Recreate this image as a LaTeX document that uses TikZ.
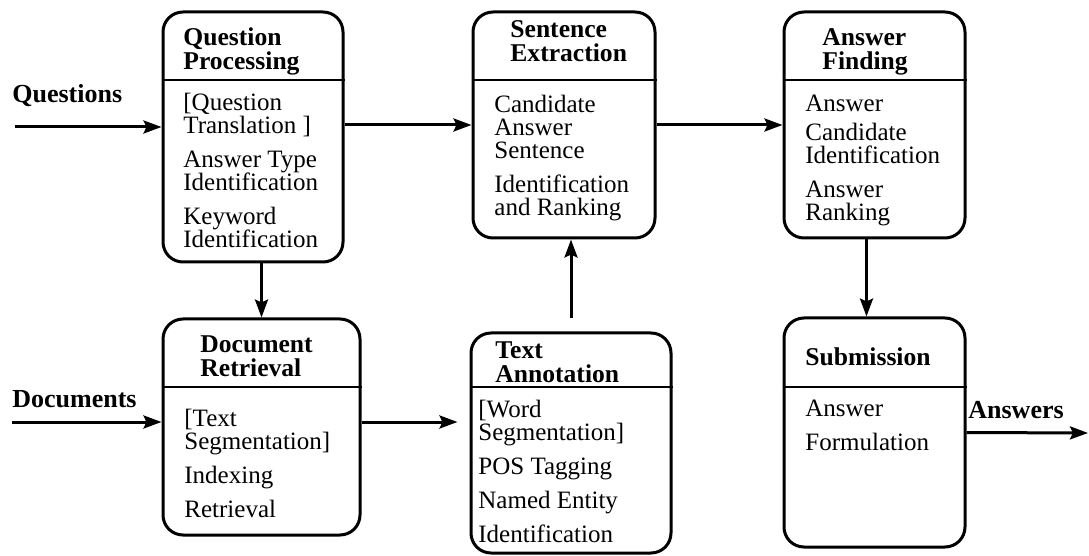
\documentclass[tikz,border=0pt]{standalone}
\usepackage{fontspec}
\setmainfont{Liberation Serif}
\usetikzlibrary{arrows.meta,positioning}

\begin{document}
\begin{tikzpicture}[
  x=0.5pt,
  y=-0.5pt,
  stage/.style={draw, line width=1.5pt, rounded corners=10pt, inner sep=0pt},
  divider/.style={line width=0.8pt},
  title/.style={anchor=north west, inner sep=0pt, align=left, font=\fontsize{12.8}{12}\selectfont\bfseries},
  items/.style={anchor=north west, inner sep=0pt, align=left, font=\fontsize{12.5}{11.5}\selectfont},
  iolabel/.style={anchor=north west, inner sep=0pt, font=\fontsize{13}{11}\selectfont\bfseries},
  flow/.style={line width=1.5pt, -{Stealth[length=9pt, width=6.5pt, inset=1.5pt]}}
]
\useasboundingbox (0,0) rectangle (1089,556);

% stages
\node[stage, minimum width=90pt, minimum height=125pt] (qp) at (253,137) {};
\node[stage, minimum width=91pt, minimum height=113pt] (se) at (564,125) {};
\node[stage, minimum width=90.5pt, minimum height=113pt] (af) at (874.5,125) {};
\node[stage, minimum width=98.5pt, minimum height=108pt] (dr) at (261.5,427) {};
\node[stage, minimum width=100pt, minimum height=110pt] (ta) at (571,443) {};
\node[stage, minimum width=90.5pt, minimum height=114.5pt] (sub) at (874.5,432.5) {};

\draw[divider] (qp.west |- 0,80) -- (qp.east |- 0,80);
\draw[divider] (se.west |- 0,80) -- (se.east |- 0,80);
\draw[divider] (af.west |- 0,80) -- (af.east |- 0,80);
\draw[divider] (dr.west |- 0,387) -- (dr.east |- 0,387);
\draw[divider] (ta.west |- 0,387) -- (ta.east |- 0,387);
\draw[divider] (sub.west |- 0,387) -- (sub.east |- 0,387);

% titles
\node[title] (qpTitle) at (183,27) {Question\\Processing};
\node[title] (seTitle) at (510,20) {Sentence\\Extraction};
\node[title] (afTitle) at (822,28) {Answer\\Finding};
\node[title] (drTitle) at (200,335) {Document\\Retrieval};
\node[title] (taTitle) at (495,341) {Text\\Annotation};
\node[title] (subTitle) at (805,347) {Submission};

% steps
\node[items] (qpItems) at (183,93) {[Question\\Translation ]\\[5.5pt]Answer Type\\Identification\\[5.5pt]Keyword\\Identification};
\node[items] (seItems) at (494,95) {Candidate\\Answer\\Sentence\\[5.5pt]Identification\\and Ranking};
\node[items] (afItems) at (805,95) {Answer\\[3pt]Candidate\\Identification\\[5.5pt]Answer\\Ranking};
\node[items] (drItems) at (184,409) {[Text\\Segmentation]\\[5.5pt]Indexing\\[5.5pt]Retrieval};
\node[items] (taItems) at (478,400) {[Word\\Segmentation]\\[5.5pt]POS Tagging\\[5.5pt]Named Entity\\[5.5pt]Identification};
\node[items] (subItems) at (805,400) {Answer\\[5.5pt]Formulation};

% inputs and output
\node[iolabel] (qLabel) at (12,84) {Questions};
\node[iolabel] (dLabel) at (12,390) {Documents};
\node[iolabel] (aLabel) at (968,401) {Answers};
\coordinate (qIn) at (15,127);
\coordinate (dIn) at (12,422);
\coordinate (aOut) at (1088,433);

\draw[flow] (qIn) -- (qIn -| qp.west);
\draw[flow] (dIn) -- (dIn -| dr.west);
\draw[flow] (sub.east) -- (aOut);
\draw[flow] (se.west -| qp.east) -- (se.west);
\draw[flow] (se.east) -- (af.west);
\draw[flow] (qp.south -| dr.north) -- (dr.north);
\draw[flow] ([xshift=-4pt]af.south) -- ([xshift=-4pt]sub.north);
\draw[flow, shorten >=6pt] (dr.east |- dIn) -- (ta.west |- dIn);
\draw[flow, shorten <=6.5pt] (ta.north) -- (ta.north |- se.south);
\end{tikzpicture}
\end{document}
